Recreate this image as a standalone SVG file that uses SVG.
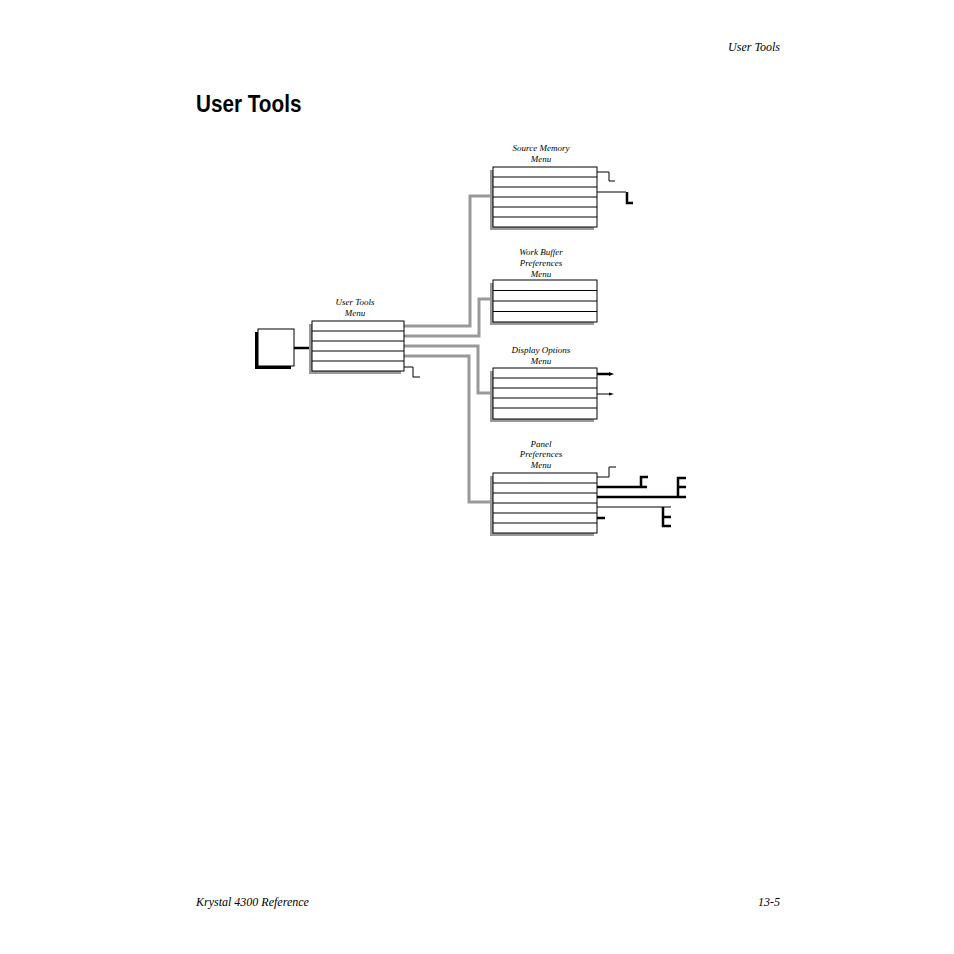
<svg xmlns="http://www.w3.org/2000/svg" width="954" height="954" viewBox="0 0 954 954">
<style>
.t{font-family:"Liberation Serif",serif;font-style:italic;font-size:9px;text-anchor:middle;fill:#000}
.h{font-family:"Liberation Serif",serif;font-style:italic;font-size:12px;fill:#000}
.box{fill:#fff;stroke:#000;stroke-width:1}
.sh{fill:#999}
.row{stroke:#000;stroke-width:1}
.g{fill:none;stroke:#999;stroke-width:3}
.k{fill:none;stroke:#000;stroke-width:1}
.kb{fill:none;stroke:#000;stroke-width:2.5}
</style>
<rect width="954" height="954" fill="#fff"/>
<text class="h" x="780" y="51" text-anchor="end">User Tools</text>
<text x="196" y="112" font-family="Liberation Sans Narrow,Liberation Sans,sans-serif" font-weight="bold" font-size="23" transform="translate(196 0) scale(0.9 1) translate(-196 0)">User Tools</text>
<text class="h" x="196" y="906">Krystal 4300 Reference</text>
<text class="h" x="780" y="906" text-anchor="end">13-5</text>
<g id="connectors">
<path class="g" d="M404 326H470V196H493"/>
<path class="g" d="M404 336H479V299H493"/>
<path class="g" d="M404 346H478V393H493"/>
<path class="g" d="M404 356H469V502H493"/>
<path class="kb" d="M294 348H312"/>
<path class="k" d="M404 367H413V377H420"/>
<path class="k" d="M597 172H609V181H615"/>
<path class="k" d="M597 192H626"/><path class="kb" d="M627 192V203H633"/>
<path class="kb" d="M597 374H610"/><path d="M609 372L614 374L609 376Z"/>
<path class="k" d="M597 394H610"/><path d="M609 392.5L614 394L609 395.5Z"/>
<path class="k" d="M597 477H609V467H616"/>
<path class="kb" d="M597 487H647"/><path class="kb" d="M641 487V477H648"/>
<path class="kb" d="M597 497H686"/><path class="kb" d="M678 497V478H686M678 487H686"/>
<path class="k" d="M597 507H671"/><path class="kb" d="M663 507V526H671M663 517H671"/>
<path class="kb" d="M597 518H605"/>
</g>
<g id="start">
<rect x="255" y="332" width="36" height="37" fill="#000"/>
<rect class="box" x="258" y="329" width="36" height="37"/>
</g>
<g id="user-tools-menu">
<text class="t" x="355" y="305">User Tools</text><text class="t" x="355" y="316">Menu</text>
<rect class="sh" x="309" y="324" width="92" height="50"/>
<rect class="box" x="312" y="321" width="92" height="50"/>
<path class="row" d="M312 331H404M312 341H404M312 351H404M312 361H404"/>
</g>
<g id="source-memory-menu">
<text class="t" x="541" y="151">Source Memory</text><text class="t" x="541" y="162">Menu</text>
<rect class="sh" x="490" y="170" width="104" height="60"/>
<rect class="box" x="493" y="167" width="104" height="60"/>
<path class="row" d="M493 177H597M493 187H597M493 197H597M493 207H597M493 217H597"/>
</g>
<g id="work-buffer-menu">
<text class="t" x="541" y="255">Work Buffer</text><text class="t" x="541" y="266">Preferences</text><text class="t" x="541" y="277">Menu</text>
<rect class="sh" x="490" y="283" width="104" height="42"/>
<rect class="box" x="493" y="280" width="104" height="42"/>
<path class="row" d="M493 290.5H597M493 301H597M493 311.5H597"/>
</g>
<g id="display-options-menu">
<text class="t" x="541" y="353">Display Options</text><text class="t" x="541" y="364">Menu</text>
<rect class="sh" x="490" y="371" width="104" height="51"/>
<rect class="box" x="493" y="368" width="104" height="51"/>
<path class="row" d="M493 378H597M493 388H597M493 398H597M493 408H597"/>
</g>
<g id="panel-preferences-menu">
<text class="t" x="541" y="447">Panel</text><text class="t" x="541" y="457">Preferences</text><text class="t" x="541" y="468">Menu</text>
<rect class="sh" x="490" y="476" width="104" height="60"/>
<rect class="box" x="493" y="473" width="104" height="60"/>
<path class="row" d="M493 483H597M493 493H597M493 503H597M493 513H597M493 523H597"/>
</g>
</svg>
